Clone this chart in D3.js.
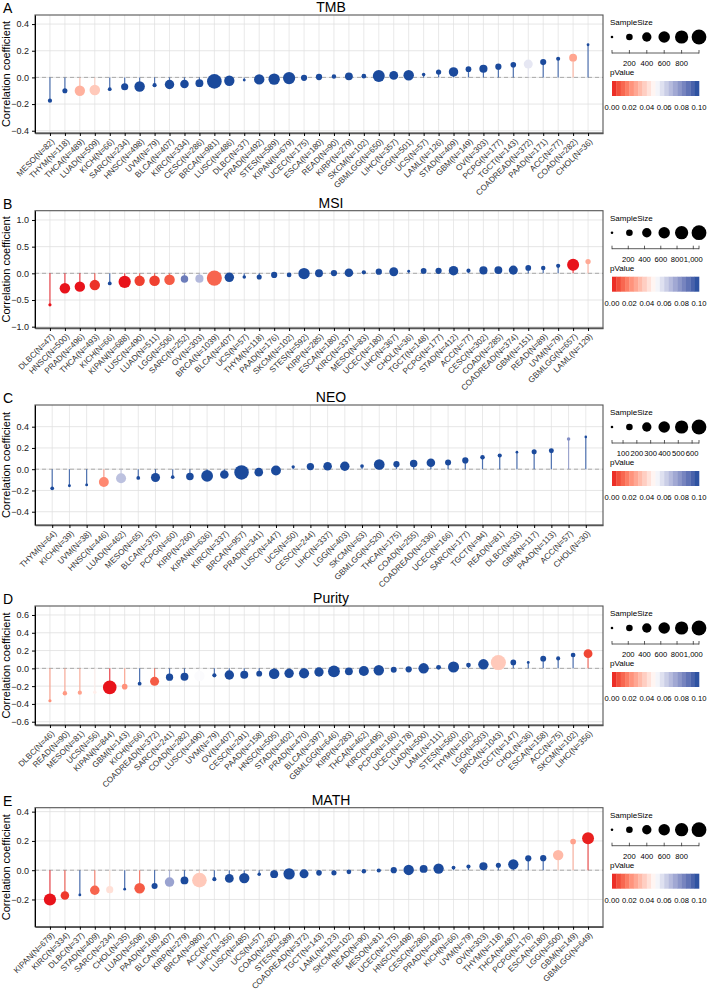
<!DOCTYPE html>
<html>
<head>
<meta charset="utf-8">
<script src="https://cdn.jsdelivr.net/npm/d3@7"></script>
<style>
body { margin: 0; background: #fff; }
text { font-family: "Liberation Sans", Arial, sans-serif; }
</style>
</head>
<body>
<svg width="709" height="992"></svg>
<script>
// TMB
const tmbCancer = ["MESO","THYM","THCA","LUAD","KICH","SARC","HNSC","UVM","BLCA","KIRC","CESC","BRCA","LUSC","DLBC","PRAD","STES","KIPAN","UCEC","ESCA","READ","KIRP","SKCM","GBMLGG","LIHC","LGG","UCS","LAML","STAD","GBM","OV","PCPG","TGCT","COADREAD","PAAD","ACC","COAD","CHOL"];
const tmbN = [82,118,489,509,66,234,498,79,407,334,286,981,486,37,492,589,679,175,180,90,279,102,650,357,501,57,126,409,149,303,177,143,372,171,77,282,36];
const tmbR = [-0.175,-0.10,-0.10,-0.095,-0.088,-0.07,-0.068,-0.058,-0.053,-0.05,-0.043,-0.03,-0.025,-0.02,-0.015,-0.013,-0.005,-0.003,0.003,0.007,0.008,0.009,0.01,0.015,0.016,0.022,0.04,0.041,0.062,0.065,0.08,0.095,0.10,0.115,0.14,0.148,0.245];
const tmbP = [0.1,0.1,0.03,0.036,0.1,0.1,0.1,0.1,0.1,0.1,0.1,0.1,0.1,0.1,0.1,0.1,0.1,0.1,0.1,0.1,0.1,0.1,0.1,0.1,0.1,0.1,0.1,0.1,0.1,0.1,0.1,0.1,0.056,0.1,0.1,0.027,0.1];

// MSI
const msiCancer = ["DLBC","HNSC","PRAD","THCA","KICH","KIPAN","LUSC","LUAD","LGG","SARC","OV","BRCA","BLCA","UCS","THYM","PAAD","SKCM","STES","KIRP","ESCA","KIRC","MESO","UCEC","LIHC","CHOL","TGCT","PCPG","STAD","ACC","CESC","COAD","COADREAD","GBM","READ","UVM","GBMLGG","LAML"];
const msiN = [47,500,496,493,66,688,490,511,506,252,303,1039,407,57,118,176,102,592,285,180,337,83,180,367,36,148,177,412,77,302,285,374,151,89,79,657,129];
const msiR = [-0.59,-0.28,-0.25,-0.22,-0.19,-0.16,-0.14,-0.14,-0.12,-0.105,-0.10,-0.09,-0.075,-0.07,-0.068,-0.03,-0.03,-0.005,0.0,0.005,0.012,0.02,0.03,0.03,0.04,0.045,0.046,0.05,0.05,0.055,0.06,0.06,0.10,0.10,0.14,0.16,0.22];
const msiP = [0.0,0.0,0.0,0.003,0.1,0.0,0.005,0.005,0.01,0.085,0.068,0.012,0.1,0.1,0.1,0.1,0.1,0.1,0.1,0.1,0.1,0.1,0.1,0.1,0.1,0.1,0.1,0.1,0.1,0.1,0.1,0.1,0.1,0.1,0.1,0.0,0.028];

// NEO
const neoCancer = ["THYM","KICH","UVM","HNSC","LUAD","MESO","BLCA","PCPG","KIRP","KIPAN","KIRC","BRCA","PRAD","LUSC","UCS","CESC","LIHC","LGG","SKCM","GBMLGG","THCA","COAD","COADREAD","UCEC","SARC","TGCT","READ","DLBC","GBM","PAAD","ACC","CHOL"];
const neoN = [64,39,38,446,462,65,375,60,260,636,337,957,341,447,50,244,337,403,63,520,175,255,336,166,177,94,81,33,117,113,57,30];
const neoR = [-0.18,-0.155,-0.148,-0.12,-0.085,-0.082,-0.078,-0.075,-0.069,-0.063,-0.05,-0.03,-0.028,-0.012,0.022,0.025,0.028,0.028,0.03,0.044,0.047,0.053,0.06,0.063,0.082,0.113,0.129,0.16,0.163,0.173,0.285,0.304];
const neoP = [0.1,0.1,0.1,0.02,0.066,0.1,0.1,0.1,0.1,0.1,0.1,0.1,0.1,0.1,0.1,0.1,0.1,0.1,0.1,0.1,0.1,0.1,0.1,0.1,0.1,0.1,0.1,0.1,0.1,0.1,0.08,0.1];

// Purity
const purCancer = ["DLBC","READ","MESO","UCS","KIPAN","GBM","KICH","COADREAD","SARC","COAD","LUSC","UVM","OV","CESC","PAAD","HNSC","STAD","PRAD","BLCA","GBMLGG","KIRP","THCA","KIRC","PCPG","UCEC","LUAD","LAML","STES","THYM","LGG","BRCA","TGCT","CHOL","ESCA","ACC","SKCM","LIHC"];
const purN = [46,90,81,56,844,143,66,372,241,282,490,79,407,291,158,505,402,470,397,646,283,462,495,160,178,500,111,560,102,503,1043,147,36,158,75,102,356];
const purR = [-0.364,-0.28,-0.274,-0.27,-0.214,-0.206,-0.172,-0.146,-0.10,-0.094,-0.086,-0.079,-0.075,-0.071,-0.06,-0.06,-0.056,-0.056,-0.041,-0.034,-0.034,-0.03,-0.022,-0.015,-0.011,0.0,0.011,0.015,0.037,0.045,0.065,0.067,0.067,0.109,0.112,0.15,0.165];
const purP = [0.022,0.024,0.026,0.046,0.0,0.022,0.1,0.01,0.1,0.1,0.051,0.1,0.1,0.1,0.1,0.1,0.1,0.1,0.1,0.1,0.1,0.1,0.1,0.1,0.1,0.1,0.1,0.1,0.1,0.1,0.036,0.1,0.1,0.1,0.1,0.1,0.006];

// MATH
const mathCancer = ["KIPAN","KIRC","DLBC","STAD","SARC","CHOL","LUAD","PAAD","BLCA","KIRP","BRCA","ACC","LIHC","LUSC","UCS","COAD","STES","COADREAD","TGCT","LAML","SKCM","READ","MESO","UCEC","HNSC","CESC","PRAD","KICH","UVM","OV","THYM","THCA","PCPG","ESCA","LGG","GBM","GBMLGG"];
const mathN = [679,334,37,409,234,35,508,168,407,279,980,77,356,485,57,282,589,372,143,123,102,90,81,175,498,286,492,66,79,303,118,487,176,180,500,149,649];
const mathR = [-0.2,-0.173,-0.169,-0.137,-0.133,-0.13,-0.124,-0.108,-0.081,-0.07,-0.068,-0.061,-0.056,-0.054,-0.027,-0.027,-0.025,-0.025,-0.018,-0.018,-0.011,-0.007,-0.002,0.0,0.002,0.009,0.011,0.018,0.025,0.027,0.034,0.04,0.081,0.082,0.103,0.196,0.218];
const mathP = [0.0,0.004,0.1,0.012,0.042,0.1,0.01,0.1,0.074,0.1,0.036,0.1,0.1,0.1,0.1,0.1,0.1,0.1,0.1,0.1,0.1,0.1,0.1,0.1,0.1,0.1,0.1,0.1,0.1,0.1,0.1,0.1,0.1,0.1,0.032,0.026,0.001];

const legendSizes = [30, 200, 400, 600, 800, 1000];
const pTicks = [0, 0.02, 0.04, 0.06, 0.08, 0.1];

const svg = d3.select("svg");
const pColor = d3.scaleLinear()
  .domain([0, 0.05, 0.1])
  .range(["#e8131b", "#ffffff", "#1b4a9c"])
  .interpolate(d3.interpolateLab)
  .clamp(true);
const rScale = d3.scaleSqrt().domain([0, 1000]).range([0, 7.4]);

const left = 35, right = 603;
const lx0 = 612, lx1 = 699;

const panels = [
  { letter: "A", title: "TMB", cancer: tmbCancer, n: tmbN, r: tmbR, p: tmbP,
    top: 15, bottom: 133, domain: [-0.417, 0.468], ticks: [-0.4, -0.2, 0, 0.2, 0.4],
    sizeDomain: [0, 1000], sizeTicks: [200, 400, 600, 800] },
  { letter: "B", title: "MSI", cancer: msiCancer, n: msiN, r: msiR, p: msiP,
    top: 210.7, bottom: 328, domain: [-1.025, 1.174], ticks: [-1, -0.5, 0, 0.5, 1],
    sizeDomain: [0, 1070], sizeTicks: [200, 400, 600, 800, 1000] },
  { letter: "C", title: "NEO", cancer: neoCancer, n: neoN, r: neoR, p: neoP,
    top: 405, bottom: 525, domain: [-0.525, 0.604], ticks: [-0.4, -0.2, 0, 0.2, 0.4],
    sizeDomain: [20, 650], sizeTicks: [100, 200, 300, 400, 500, 600] },
  { letter: "D", title: "Purity", cancer: purCancer, n: purN, r: purR, p: purP,
    top: 606, bottom: 725, domain: [-0.637, 0.701], ticks: [-0.6, -0.4, -0.2, 0, 0.2, 0.4, 0.6],
    sizeDomain: [0, 1070], sizeTicks: [200, 400, 600, 800, 1000] },
  { letter: "E", title: "MATH", cancer: mathCancer, n: mathN, r: mathR, p: mathP,
    top: 807.7, bottom: 926.7, domain: [-0.386, 0.427], ticks: [-0.2, 0, 0.2, 0.4],
    sizeDomain: [0, 1000], sizeTicks: [200, 400, 600, 800] }
];

function drawPanel(cfg) {
  const g = svg.append("g");
  const rows = cfg.cancer.map((c, i) => ({
    label: `${c}(N=${cfg.n[i]})`, n: cfg.n[i], r: cfg.r[i], p: cfg.p[i]
  }));
  const x = d3.scalePoint().domain(rows.map(d => d.label)).range([left, right]).padding(1);
  const y = d3.scaleLinear().domain(cfg.domain).range([cfg.bottom, cfg.top]);

  // grid
  g.selectAll("line.vgrid").data(rows).join("line").attr("class", "vgrid")
    .attr("x1", d => x(d.label)).attr("x2", d => x(d.label))
    .attr("y1", cfg.top).attr("y2", cfg.bottom)
    .attr("stroke", "#e3e3e3").attr("stroke-width", 0.8);
  g.selectAll("line.hgrid").data(cfg.ticks).join("line").attr("class", "hgrid")
    .attr("x1", left).attr("x2", right)
    .attr("y1", d => y(d)).attr("y2", d => y(d))
    .attr("stroke", "#e0e0e0").attr("stroke-width", 0.8);

  // zero line
  g.append("line")
    .attr("x1", left).attr("x2", right)
    .attr("y1", y(0)).attr("y2", y(0))
    .attr("stroke", "#999").attr("stroke-dasharray", "4,3").attr("stroke-width", 0.8);

  // lollipops
  g.selectAll("line.seg").data(rows).join("line").attr("class", "seg")
    .attr("x1", d => x(d.label)).attr("x2", d => x(d.label))
    .attr("y1", y(0)).attr("y2", d => y(d.r))
    .attr("stroke", d => pColor(d.p)).attr("stroke-width", 1.2).attr("stroke-opacity", 0.75);
  g.selectAll("circle.pt").data(rows).join("circle").attr("class", "pt")
    .attr("cx", d => x(d.label)).attr("cy", d => y(d.r))
    .attr("r", d => rScale(d.n))
    .attr("fill", d => pColor(d.p));

  // frame
  g.append("rect")
    .attr("x", left).attr("y", cfg.top)
    .attr("width", right - left).attr("height", cfg.bottom - cfg.top)
    .attr("fill", "none").attr("stroke", "#555").attr("stroke-width", 1.1);

  // axes
  const ya = svg.append("g").attr("transform", `translate(${left},0)`)
    .call(d3.axisLeft(y).tickValues(cfg.ticks).tickFormat(d3.format(".1f")).tickSize(3).tickSizeOuter(0));
  ya.selectAll("text").attr("font-size", 9).attr("fill", "#222");
  ya.select(".domain").attr("stroke", "#000");

  const xa = svg.append("g").attr("transform", `translate(0,${cfg.bottom})`)
    .call(d3.axisBottom(x).tickSize(3).tickSizeOuter(0).tickFormat(""));
  xa.select(".domain").attr("stroke", "#555").attr("stroke-width", 1.5);

  // category labels, rotated 45 degrees
  svg.append("g").selectAll("text").data(rows).join("text")
    .attr("transform", d => `translate(${x(d.label) + 5},${cfg.bottom + 9}) rotate(-45)`)
    .attr("text-anchor", "end")
    .attr("font-size", 8.2)
    .attr("fill", "#333")
    .text(d => d.label);

  // labels
  svg.append("text")
    .attr("transform", `translate(10,${(cfg.top + cfg.bottom) / 2}) rotate(-90)`)
    .attr("text-anchor", "middle").attr("font-size", 11)
    .text("Correlation coefficient");
  svg.append("text").attr("x", 3).attr("y", cfg.top - 2)
    .attr("font-size", 14).text(cfg.letter);
  svg.append("text").attr("x", 331).attr("y", cfg.top - 3)
    .attr("text-anchor", "middle").attr("font-size", 14).text(cfg.title);

  drawLegend(cfg);
}

function drawLegend(cfg) {
  const g = svg.append("g");
  const t = cfg.top;
  g.append("text").attr("x", 610).attr("y", t + 10).attr("font-size", 8).text("SampleSize");

  const slot = d3.scalePoint().domain(d3.range(legendSizes.length)).range([lx0, lx1]);
  g.selectAll("circle.lc").data(legendSizes).join("circle").attr("class", "lc")
    .attr("cx", (d, i) => slot(i)).attr("cy", t + 22)
    .attr("r", d => rScale(d)).attr("fill", "#000");

  const s = d3.scaleLinear().domain(cfg.sizeDomain).range([lx0, lx1]);
  const ay = t + 38;
  g.append("line").attr("x1", lx0).attr("x2", lx1).attr("y1", ay).attr("y2", ay)
    .attr("stroke", "#333").attr("stroke-width", 0.8);
  const tickPos = [lx0, lx1].concat(cfg.sizeTicks.map(s));
  g.selectAll("line.st").data(tickPos).join("line").attr("class", "st")
    .attr("x1", d => d).attr("x2", d => d).attr("y1", ay - 3).attr("y2", ay + 0.5)
    .attr("stroke", "#333").attr("stroke-width", 0.8);
  g.selectAll("text.sl").data(cfg.sizeTicks).join("text").attr("class", "sl")
    .attr("x", d => s(d)).attr("y", t + 51)
    .attr("text-anchor", "middle").attr("font-size", 7.6)
    .text(d3.format(","));

  g.append("text").attr("x", 610).attr("y", t + 60).attr("font-size", 8).text("pValue");
  const c = d3.scaleLinear().domain([0, 0.1]).range([lx0, lx1]);
  const bins = d3.range(20);
  const bw = (lx1 - lx0) / bins.length;
  g.selectAll("rect.bin").data(bins).join("rect").attr("class", "bin")
    .attr("x", d => lx0 + d * bw).attr("y", t + 66)
    .attr("width", bw + 0.3).attr("height", 15)
    .attr("fill", d => pColor((d + 0.5) * 0.1 / bins.length));
  g.selectAll("text.pl").data(pTicks).join("text").attr("class", "pl")
    .attr("x", d => c(d)).attr("y", t + 95)
    .attr("text-anchor", "middle").attr("font-size", 7.6)
    .text(d3.format(".2f"));
}

panels.forEach(drawPanel);
</script>
</body>
</html>
